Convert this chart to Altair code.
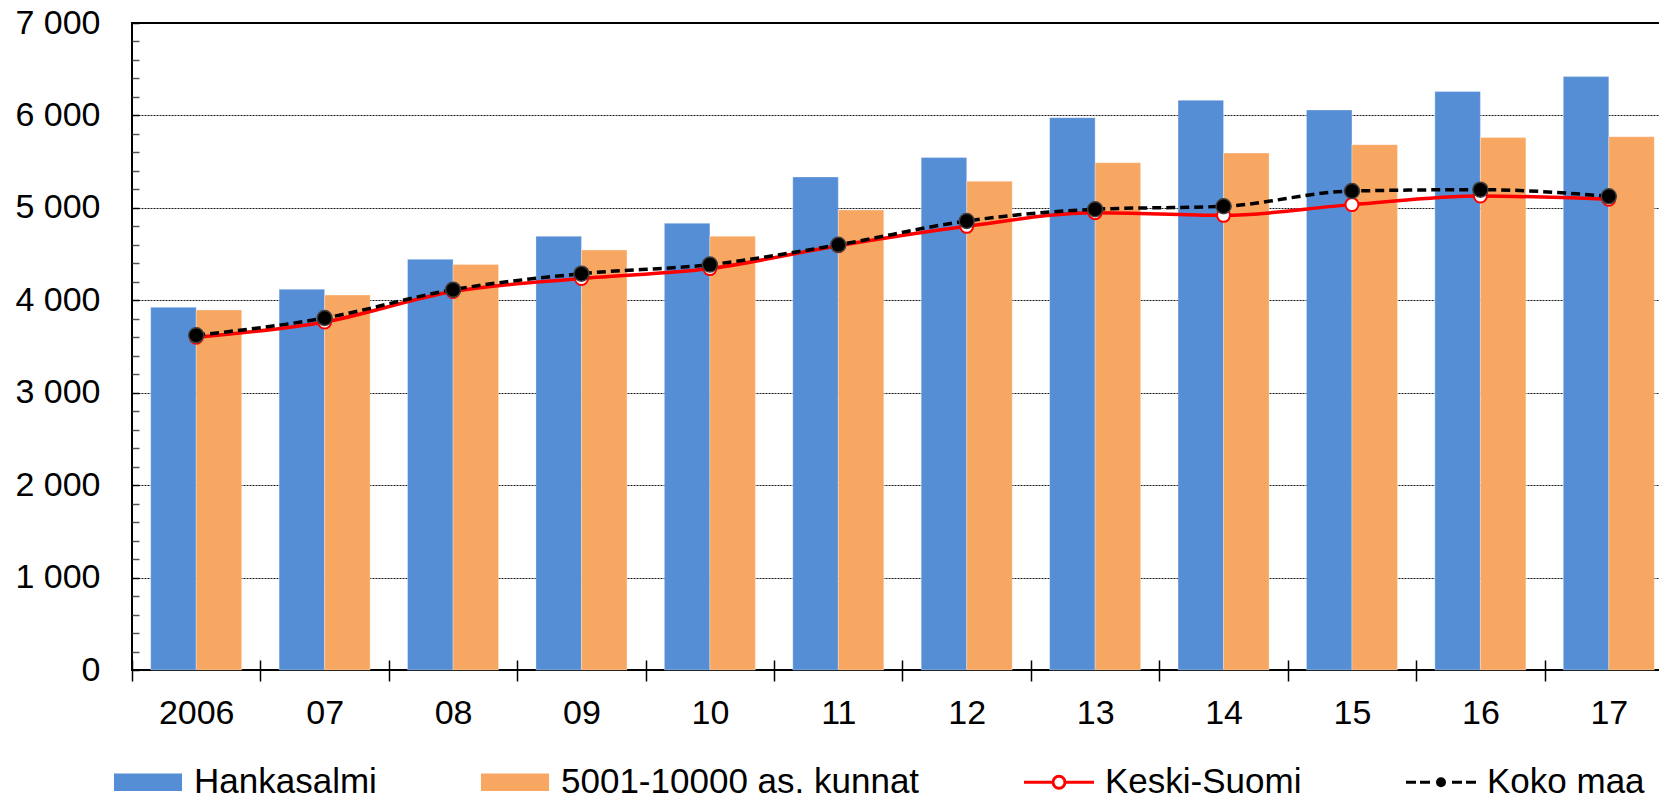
import altair as alt
import pandas as pd

years = ["2006", "07", "08", "09", "10", "11", "12", "13", "14", "15", "16", "17"]
hankasalmi = [3924, 4119, 4443, 4692, 4833, 5334, 5544, 5976, 6164, 6059, 6258, 6420]
kunnat = [3895, 4057, 4386, 4544, 4692, 4977, 5287, 5488, 5593, 5684, 5760, 5770]
keski_suomi = [3600, 3765, 4095, 4235, 4343, 4590, 4800, 4948, 4919, 5035, 5128, 5093]
koko_maa = [3621, 3808, 4115, 4288, 4386, 4600, 4858, 4985, 5017, 5182, 5197, 5125]

series_names = ["Hankasalmi", "5001-10000 as. kunnat", "Keski-Suomi", "Koko maa"]
bar_series = series_names[:2]
fill_colors = ["#558ED5", "#F8A762", "#FFFFFF", "#000000"]
stroke_colors = ["#558ED5", "#F8A762", "#FF0000", "#000000"]

rect_path = "M-0.93,-0.206H0.93V0.206H-0.93Z"
keski_path = ("M-1,0H-0.171M0.171,0H1"
              "M0.171,0A0.171,0.171 0 1,1 -0.171,0A0.171,0.171 0 1,1 0.171,0Z")
koko_path = ("M-1,0H-0.714M-0.6,0H-0.314M0.314,0H0.6M0.714,0H1"
             "M0.1,0A0.1,0.1 0 1,1 -0.1,0A0.1,0.1 0 1,1 0.1,0Z")
legend_shapes = [rect_path, rect_path, keski_path, koko_path]

rows = []
for name, vals in zip(series_names, [hankasalmi, kunnat, keski_suomi, koko_maa]):
    for yr, v in zip(years, vals):
        rows.append({"year": yr, "series": name, "value": v})
df = pd.DataFrame(rows)
legend_df = pd.DataFrame({"series": series_names})

FONT = "Liberation Sans"
major = "datum.value % 1000 === 0"

x_enc = alt.X(
    "year:N", sort=years,
    scale=alt.Scale(paddingInner=0, paddingOuter=0),
    axis=alt.Axis(title=None, domain=False, offset=-10, tickSize=21, tickBand="extent",
                  tickColor="black", tickWidth=1.5, labelPadding=15, labelFontSize=34,
                  labelAngle=0, grid=False, labelColor="black", labelFont=FONT),
)
y_enc = alt.Y(
    "value:Q",
    scale=alt.Scale(domain=[0, 7000], nice=False, zero=True),
    axis=alt.Axis(
        title=None, values=list(range(0, 7001, 200)),
        labelExpr=f"{major} ? (datum.value === 0 ? '0' : format(datum.value/1000, 'd') + ' 000') : ''",
        labelOverlap=False, labelFlush=False,
        domain=False, offset=-7, tickSize=7, tickWidth=1.5,
        tickColor={"condition": {"test": major, "value": "black"}, "value": "#555555"},
        labelPadding=32, labelFontSize=34, labelColor="black", labelFont=FONT,
        grid=True, gridColor="black", gridDash=[2, 1], gridWidth=1,
        gridOpacity={"condition": {"test": major, "value": 0.9}, "value": 0},
    ),
)

base = alt.Chart(df)

bars = base.transform_filter(
    alt.FieldOneOfPredicate(field="series", oneOf=bar_series)
).mark_bar(stroke="#FFFFFF", strokeWidth=0.6, strokeOpacity=0.5).encode(
    x=x_enc,
    xOffset=alt.XOffset("series:N", sort=bar_series,
                        scale=alt.Scale(domain=bar_series, paddingInner=0, paddingOuter=0.411)),
    y=y_enc,
    color=alt.Color("series:N", scale=alt.Scale(domain=bar_series, range=fill_colors[:2]), legend=None),
)

keski = base.transform_filter(alt.datum.series == "Keski-Suomi")
koko = base.transform_filter(alt.datum.series == "Koko maa")

keski_line = keski.mark_line(color="#FF0000", strokeWidth=3.5, interpolate="monotone").encode(x=x_enc, y=y_enc)
keski_pts = keski.mark_point(shape="circle", filled=True, fill="white", stroke="#FF0000",
                             strokeWidth=2, size=169, opacity=1).encode(x=x_enc, y=y_enc)
koko_line = koko.mark_line(color="black", strokeDash=[9, 5], strokeWidth=3.5,
                           interpolate="monotone").encode(x=x_enc, y=y_enc)
koko_pts = koko.mark_point(shape="circle", filled=True, fill="black", stroke="#404040",
                           strokeWidth=1.5, size=225, opacity=1).encode(x=x_enc, y=y_enc)

leg = alt.Legend(title=None, orient="none", legendX=-20.5, legendY=722.5, direction="horizontal")
legend_layer = alt.Chart(legend_df).mark_point().encode(
    fill=alt.Fill("series:N", sort=series_names,
                  scale=alt.Scale(domain=series_names, range=fill_colors), legend=leg),
    stroke=alt.Stroke("series:N", sort=series_names,
                      scale=alt.Scale(domain=series_names, range=stroke_colors), legend=leg),
    shape=alt.Shape("series:N", sort=series_names,
                    scale=alt.Scale(domain=series_names, range=legend_shapes), legend=leg),
    opacity=alt.value(0),
)

chart = alt.layer(
    bars, keski_line, keski_pts, koko_line, koko_pts, legend_layer
).properties(
    width=1541, height=647,
    autosize=alt.AutoSizeParams(type="none"),
    padding={"left": 124, "top": 15, "right": -14, "bottom": 123},
).configure_view(
    stroke="black", strokeWidth=2, fill="#F7F7F7"
).configure_legend(
    labelFont=FONT, labelFontSize=35, labelColor="black", labelLimit=1000,
    symbolSize=4900, symbolStrokeWidth=3, symbolOpacity=1,
    symbolFillColor="black", symbolStrokeColor="black",
    columnPadding=98, labelOffset=9.5, padding=0,
)

chart.save("out.html", embed_options={"renderer": "svg", "actions": False})
